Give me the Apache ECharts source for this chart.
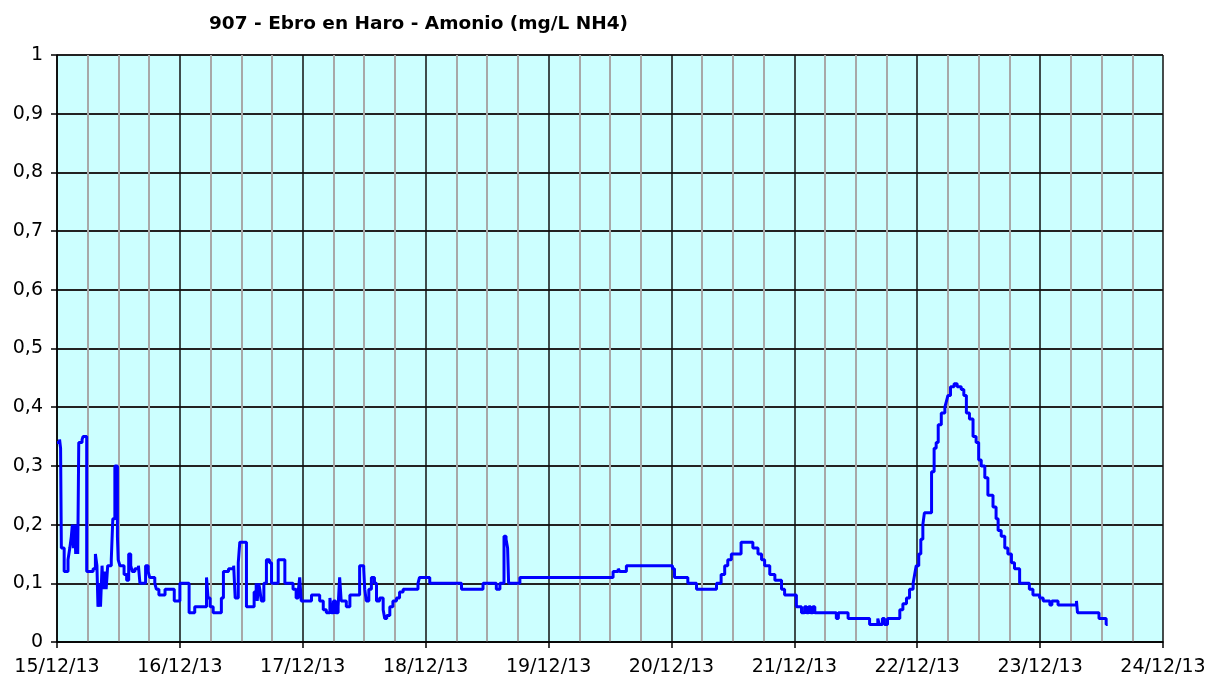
<!DOCTYPE html>
<html lang="es">
<head>
    <meta charset="utf-8">
    <title>907 - Ebro en Haro - Amonio</title>
    <script src="https://cdn.jsdelivr.net/npm/echarts@6/dist/echarts.min.js"></script>
    <style>
        html, body {
            margin: 0px;
            padding: 0px;
            background: #fff;
        }

        #chart {
            width: 1221px;
            height: 682px;
        }
    </style>
</head>
<body>
<div id="chart"></div>
<script type="text/javascript">
    // etiquetas de los ejes
    var dayLabels = ['15/12/13', '16/12/13', '17/12/13', '18/12/13', '19/12/13',
        '20/12/13', '21/12/13', '22/12/13', '23/12/13', '24/12/13'];
    var yLabels = ['0', '0,1', '0,2', '0,3', '0,4', '0,5', '0,6', '0,7', '0,8', '0,9', '1'];

    // horas desde 15/12/13 00:00
    var hours = [
        0, 0.5, 0.7, 0.85, 1.4, 2.15, 2.5, 2.8, 3.0, 3.2, 3.45, 3.65, 3.85, 4.05, 4.25, 4.9, 5.1, 5.8,
        7.05, 7.5, 7.8, 8.0, 8.3, 8.5, 8.8, 9.0, 9.3, 9.6, 9.9, 10.6, 10.9, 11.3, 11.8, 11.95,
        12.3, 13.1, 13.6, 14.0, 14.4, 14.7, 15.2, 15.9, 16.2, 17.3, 17.8, 18.1, 19.1, 19.4, 19.9,
        21.1, 22.9, 24.0, 25.8, 26.9, 29.2, 29.5, 29.9, 30.5, 32.1, 32.5, 33.5, 34.5, 34.8, 35.4, 35.7,
        37.0, 38.5, 38.9, 39.1, 39.4, 39.6, 39.9, 40.4, 40.9, 41.5, 41.9, 43.2, 44.5, 46.1, 46.7,
        47.1, 47.4, 47.7, 49.7, 51.3, 52.0, 52.6, 53.3, 53.6, 54.0, 54.4, 54.9, 55.2, 55.5, 56.5,
        57.2, 59.1, 59.9, 60.1, 60.4, 60.9, 61.4, 62.0, 62.4, 63.0, 63.7, 64.0, 64.4, 65.0, 65.6,
        66.3, 66.9, 67.6, 70.5, 70.8, 72.8,
        79.0, 83.2, 85.8, 86.5, 87.3, 87.7, 88.0, 88.2, 90.4,
        108.6, 109.6, 109.9, 111.2, 120.2, 120.6, 121.3, 123.2, 124.9, 128.8, 129.7, 130.4, 131.0,
        131.7, 133.6, 135.9, 136.9, 137.6, 138.2, 139.2, 140.2, 141.5, 142.1, 144.4,
        145.4, 146.0, 146.4, 146.8, 147.2, 147.6, 148.0, 152.2, 152.6, 154.5, 158.7, 160.3, 160.6,
        161.2, 161.6, 162.2, 164.6, 165.2, 165.9, 166.5, 167.2, 167.5, 167.8, 168.3, 168.7, 169.1,
        169.4, 170.8, 171.3, 171.7, 172.1, 172.7, 173.4, 173.7, 174.0, 174.5, 175.2, 175.8, 176.6,
        177.1, 177.6, 178.2, 178.9, 179.5, 180.0, 180.5, 181.2, 181.8, 182.8, 183.4, 183.8, 184.4,
        185.1, 185.7, 186.4, 187.0, 188.0, 189.9, 190.6, 191.9, 192.6, 193.9, 194.3, 195.5, 199.1,
        199.3, 203.5, 204.9, 205.2
    ];

    // amonio (mg/L NH4)
    var amonio = [
        0.34, 0.345, 0.33, 0.16, 0.12, 0.14, 0.16, 0.18, 0.20, 0.16, 0.20, 0.15, 0.20, 0.15, 0.34, 0.345, 0.35, 0.12,
        0.125, 0.15, 0.13, 0.06, 0.10, 0.06, 0.13, 0.09, 0.12, 0.09, 0.13, 0.14, 0.21, 0.30, 0.18, 0.14,
        0.13, 0.115, 0.105, 0.15, 0.13, 0.12, 0.125, 0.13, 0.10, 0.13, 0.12, 0.11, 0.10, 0.09, 0.08,
        0.09, 0.07, 0.10, 0.05, 0.06, 0.11, 0.075, 0.06, 0.05, 0.075, 0.12, 0.125, 0.13, 0.075, 0.135, 0.17,
        0.06, 0.085, 0.10, 0.07, 0.10, 0.09, 0.07, 0.10, 0.14, 0.135, 0.10, 0.14, 0.10, 0.09, 0.075,
        0.085, 0.11, 0.07, 0.08, 0.07, 0.055, 0.05, 0.075, 0.05, 0.07, 0.05, 0.06, 0.11, 0.07, 0.06,
        0.08, 0.13, 0.125, 0.09, 0.07, 0.09, 0.11, 0.10, 0.07, 0.075, 0.055, 0.04, 0.045, 0.06, 0.07,
        0.075, 0.085, 0.09, 0.10, 0.11, 0.10,
        0.09, 0.10, 0.09, 0.10, 0.18, 0.175, 0.16, 0.10, 0.11,
        0.12, 0.125, 0.12, 0.13, 0.125, 0.11, 0.11, 0.10, 0.09, 0.10, 0.115, 0.13, 0.14,
        0.15, 0.17, 0.16, 0.15, 0.14, 0.13, 0.115, 0.105, 0.09, 0.08, 0.06,
        0.05, 0.06, 0.05, 0.06, 0.05, 0.06, 0.05, 0.04, 0.05, 0.04, 0.03, 0.04, 0.03,
        0.04, 0.03, 0.04, 0.055, 0.065, 0.075, 0.09, 0.10, 0.115, 0.13, 0.15, 0.175, 0.20,
        0.22, 0.29, 0.33, 0.34, 0.37, 0.39, 0.40, 0.41, 0.42, 0.435, 0.44, 0.435, 0.43,
        0.42, 0.39, 0.38, 0.35, 0.34, 0.31, 0.30, 0.28, 0.25, 0.23, 0.21, 0.19, 0.18,
        0.16, 0.15, 0.135, 0.125, 0.10, 0.09, 0.08, 0.075, 0.07, 0.063, 0.07, 0.063, 0.07,
        0.05, 0.04, 0.03, 0.03
    ];

    var myChart = echarts.init(document.getElementById('chart'), null, {renderer: 'canvas'});

    function buildSeriesData() {
        var data = [];
        for (var i = 0; i < hours.length; i++) {
            data.push([hours[i], amonio[i]]);
        }
        return data;
    }

    var labelFont = {
        color: '#000',
        fontFamily: 'DejaVu Sans',
        fontSize: 19
    };

    var option = {
        animation: false,
        backgroundColor: '#fff',
        title: {
            text: '907 - Ebro en Haro - Amonio (mg/L NH4)',
            left: 204,
            top: 10,
            textStyle: {
                color: '#000',
                fontFamily: 'DejaVu Sans',
                fontWeight: 'bold',
                fontSize: 18.5
            }
        },
        grid: {
            left: 57,
            right: 58,
            top: 55,
            bottom: 40,
            show: true,
            backgroundColor: '#ccffff',
            borderWidth: 0
        },
        xAxis: {
            type: 'value',
            min: 0,
            max: 216,
            interval: 24,
            axisLine: {lineStyle: {color: '#000', width: 1.5}},
            axisTick: {show: true, length: 6, lineStyle: {color: '#000', width: 1.5}},
            axisLabel: Object.assign({
                margin: 16,
                formatter: function (v) {
                    return dayLabels[Math.round(v / 24)];
                }
            }, labelFont),
            splitLine: {show: true, lineStyle: {color: '#111', width: 1.5}},
            minorTick: {show: false, splitNumber: 4},
            minorSplitLine: {show: true, lineStyle: {color: '#a8a8a8', width: 2}}
        },
        yAxis: {
            type: 'value',
            min: 0,
            max: 1,
            interval: 0.1,
            axisLine: {show: true, lineStyle: {color: '#000', width: 1.5}},
            axisTick: {show: true, length: 6, lineStyle: {color: '#000', width: 1.5}},
            axisLabel: Object.assign({
                margin: 14,
                formatter: function (v) {
                    return yLabels[Math.round(v * 10)];
                }
            }, labelFont),
            splitLine: {show: true, lineStyle: {color: '#222', width: 2}}
        },
        series: [{
            name: 'Amonio',
            type: 'line',
            step: 'end',
            showSymbol: false,
            data: buildSeriesData(),
            lineStyle: {color: '#0000ff', width: 3},
            z: 5
        }]
    };

    myChart.setOption(option);
</script>
</body>
</html>
